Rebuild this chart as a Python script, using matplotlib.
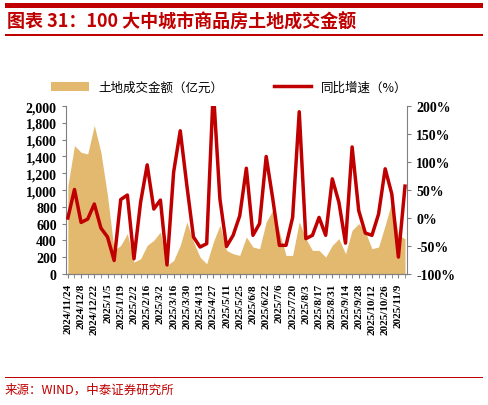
import numpy as np
import matplotlib.pyplot as plt
import matplotlib.patches as mpatches
import pandas as pd

plt.rcParams['font.family'] = ['Liberation Serif', 'Noto Sans CJK SC']

dates = pd.date_range("2024-11-24", periods=52, freq="7D")
amount = [1050, 1530, 1450, 1430, 1770, 1450, 930, 280, 340, 480,
          140, 180, 340, 400, 500, 100, 160, 340, 620, 380,
          200, 120, 380, 580, 280, 240, 220, 440, 320, 300,
          620, 760, 500, 220, 220, 620, 420, 280, 280, 200,
          340, 420, 240, 520, 600, 500, 300, 320, 580, 860,
          460, 420]
yoy = [0, 51, -8, -2, 25, -18, -34, -76, 33, 41,
       -73, 28, 95, 16, 32, -84, 82, 156, 58, -34,
       -52, -46, 230, 34, -51, -31, 4, 89, -31, -10,
       110, 34, -49, -49, 1, 190, -37, -31, 1, -31,
       70, 28, -45, 127, 13, -27, -31, 7, 88, 43,
       -70, 57]
labels = [d.strftime("%Y/%-m/%-d") for d in dates]
red = '#C00000'

fig = plt.figure(figsize=(4.88, 4.06), dpi=100)

# rules for title / source, as thin filled rectangles in figure coords
for y0, h in [(0.978, 0.012), (0.910, 0.004), (0.066, 0.004)]:
    fig.patches.append(mpatches.Rectangle((0.01, y0), 0.98, h, transform=fig.transFigure,
                                          facecolor=red, edgecolor='none', figure=fig))

ax = fig.add_axes([0.135, 0.323, 0.699, 0.413])
x = np.arange(len(dates))
ax.fill_between(x, amount, color='#E2B96F', lw=0, label='土地成交金额（亿元）')
ax.set_ylim(0, 2000)
ax.set_xlim(-0.3, len(x) - 0.7)
ax.set_yticks(range(0, 2001, 200))
ax.set_yticklabels([f"{v:,}" for v in range(0, 2001, 200)], fontweight='bold', fontsize=10)
ax.set_xticks(x[::2])
ax.set_xticklabels(labels[::2], rotation=90, fontweight='bold', fontsize=8)
ax.set_xticks(x, minor=True)

ax2 = ax.twinx()
ax2.plot(x, yoy, color=red, lw=2.5, label='同比增速（%）')
ax2.set_ylim(-100, 200)
ax2.set_yticks(range(-100, 201, 50))
ax2.set_yticklabels([f"{v}%" for v in range(-100, 201, 50)], fontweight='bold', fontsize=10)

for a in (ax, ax2):
    a.spines['top'].set_visible(False)
    for s in ('left', 'right', 'bottom'):
        a.spines[s].set_color('#808080')
    a.tick_params(which='both', color='#808080', length=3)
ax.spines['right'].set_visible(False)
ax2.spines['left'].set_visible(False)

h1, l1 = ax.get_legend_handles_labels()
h2, l2 = ax2.get_legend_handles_labels()
fig.legend(h1 + h2, l1 + l2, loc='center', bbox_to_anchor=(0.47, 0.783), ncol=2,
           frameon=False, columnspacing=4, handlelength=3,
           prop={'family': ['Noto Sans CJK SC'], 'size': 9})

fig.text(0.015, 0.945, "图表 31：100 大中城市商品房土地成交金额", color=red, va='center',
         fontsize=13, fontweight='bold', style='italic', family=['Noto Sans CJK SC'])
fig.text(0.01, 0.03, "来源：WIND，中泰证券研究所", color=red, fontsize=9,
         family=['Noto Sans CJK SC'])

fig.savefig("out.png", dpi=100)
